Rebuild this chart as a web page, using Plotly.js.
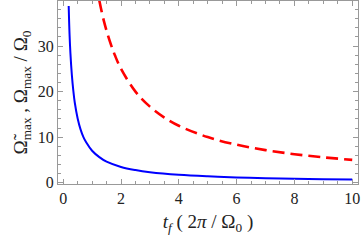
<!DOCTYPE html>
<html><head><meta charset="utf-8">
<script src="https://cdn.plot.ly/plotly-3.0.1.min.js"></script>
<style>html,body{margin:0;padding:0;background:#fff}#c{width:361px;height:242px}</style>
</head><body><div id="c"></div>
<script>
const blueT = [0.19, 0.22, 0.25, 0.3, 0.35, 0.4, 0.5, 0.6, 0.7, 0.8, 1.0, 1.25, 1.5, 2, 2.5, 3, 4, 5, 6, 7, 8, 9, 10];
const blueY = [38.8, 32.5, 28.4, 23.6, 20.2, 17.6, 14.1, 11.7, 10.0, 8.8, 7.0, 5.6, 4.6, 3.45, 2.77, 2.3, 1.72, 1.38, 1.15, 0.98, 0.86, 0.77, 0.69];
const redT = [1.25, 1.4, 1.6, 1.8, 2, 2.5, 3, 3.5, 4, 5, 6, 7, 8, 9, 10];
const redY = [40.0, 35.7, 31.3, 27.8, 25.0, 20.0, 16.7, 14.3, 12.5, 10.0, 8.33, 7.14, 6.25, 5.56, 5.0];
const xTicks = [0, 2, 4, 6, 8, 10];
const yTicks = [0, 10, 20, 30];

const serif = "Liberation Serif";
const data = [
  {x: blueT, y: blueY, type: "scatter", mode: "lines", line: {color: "#0000ff", width: 2, shape: "spline"}, hoverinfo: "skip"},
  {x: redT, y: redY, type: "scatter", mode: "lines", line: {color: "#ff0000", width: 2.6, dash: "12px,6px", shape: "spline"}, hoverinfo: "skip"}
];
const layout = {
  width: 361, height: 242, showlegend: false,
  font: {family: serif, size: 16, color: "#222"},
  paper_bgcolor: "#fff", plot_bgcolor: "#fff",
  margin: {l: 58, r: 3, t: 1, b: 58},
  xaxis: {
    showline: true, linecolor: "#999", linewidth: 1, mirror: "ticks",
    ticks: "inside", ticklen: 5, tickcolor: "#999", tickwidth: 1,
    showgrid: false, zeroline: false,
    tickfont: {family: serif, size: 16, color: "#222"},
    range: [-0.18, 10.2], tickvals: xTicks, ticktext: xTicks.map(String),
    minor: {dtick: 0.5, ticks: "inside", ticklen: 3, tickcolor: "#999"},
    title: {text: "<i>t</i><sub><i>f</i></sub> ( 2<i>π</i> / Ω<sub>0</sub> )", font: {family: serif, size: 19, color: "#222"}, standoff: 8}
  },
  yaxis: {
    showline: true, linecolor: "#999", linewidth: 1, mirror: "ticks",
    ticks: "inside", ticklen: 5, tickcolor: "#999", tickwidth: 1,
    showgrid: false, zeroline: false,
    tickfont: {family: serif, size: 16, color: "#222"},
    range: [-0.3, 39.9], tickvals: yTicks, ticktext: yTicks.map(String),
    minor: {dtick: 2, ticks: "inside", ticklen: 3, tickcolor: "#999"},
    title: {text: "Ω\u0303<sub>max</sub> , Ω<sub>max</sub> / Ω<sub>0</sub>", font: {family: serif, size: 19, color: "#222"}, standoff: 5}
  }
};
Plotly.newPlot("c", data, layout, {staticPlot: true, displayModeBar: false});
</script></body></html>
